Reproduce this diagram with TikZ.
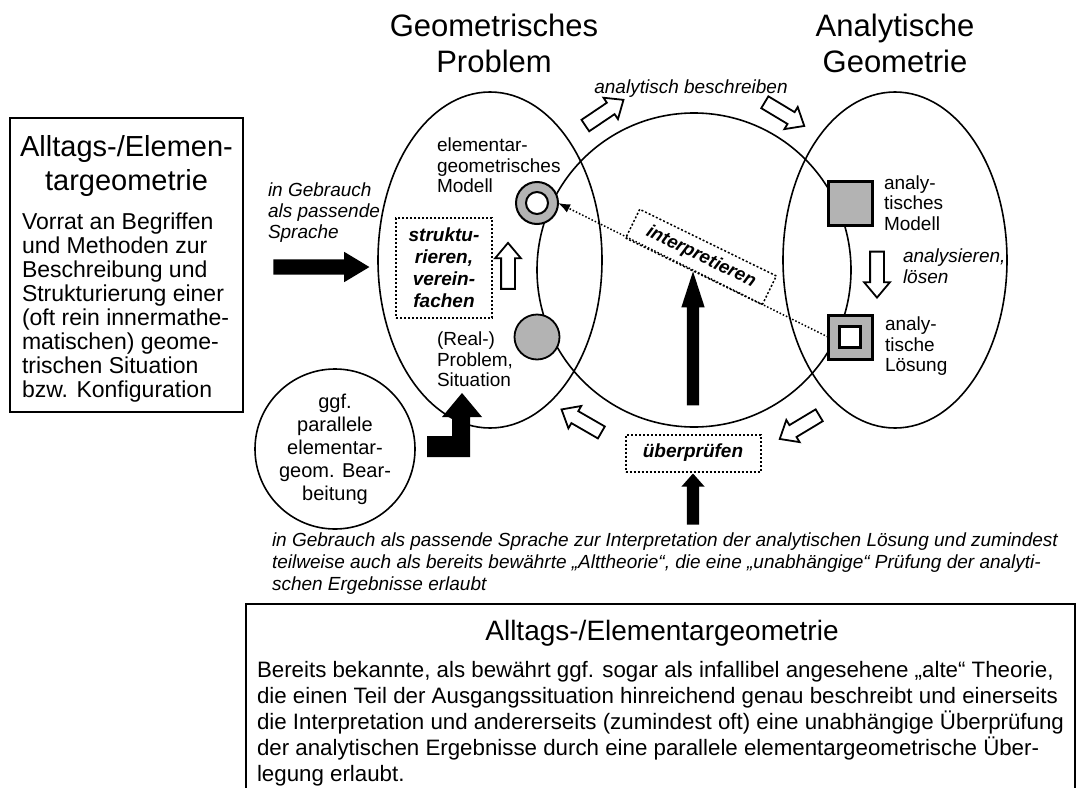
\documentclass[tikz,border=0pt]{standalone}
\usepackage{fontspec}
\setmainfont{Liberation Sans}
\usepackage{xcolor}
\usetikzlibrary{arrows.meta,positioning,shapes.geometric,shapes.arrows}
\definecolor{fillgray}{HTML}{B3B3B3}
\newcommand{\fsz}[2]{\fontsize{#1}{#2}\selectfont}

\begin{document}
\begin{tikzpicture}[x=1pt,y=-1pt,
  every node/.style={inner sep=0pt, outer sep=0pt},
  region/.style={draw, ellipse, line width=1.6, minimum width=224pt, minimum height=336pt},
  frame/.style={draw, rectangle, line width=2.6},
  dotbox/.style={draw, rectangle, line width=2, dash pattern=on 2pt off 2pt},
  title/.style={align=center, font=\fsz{31}{36}},
  lbl/.style={align=left, font=\fsz{19}{20.5}},
  note/.style={align=left, font=\fsz{19}{21}\itshape},
  act/.style={align=center, font=\fsz{19}{22}\bfseries\itshape},
  warrow/.style={single arrow, draw, fill=white, line width=1.8, minimum height=46pt,
    minimum width=24pt, inner xsep=0pt, inner ysep=6pt, single arrow head extend=6pt,
    single arrow tip angle=80},
  barrow/.style={single arrow, fill=black, inner xsep=0pt}]
\useasboundingbox (0,0) rectangle (1078,787);

% the three regions
\node [region] (geoprob) at (490,260) {};
\node [region] (anageo) at (895,260) {};
\node [draw, circle, line width=1.6, minimum size=314pt] (bridge) at (694,270) {};

\node [title, anchor=north] (probtitle) at (494,14) {Geometrisches\\Problem};
\node [title, anchor=north] (geomtitle) at (895,14) {Analytische\\Geometrie};

% left box
\node [frame, minimum width=233pt, minimum height=294pt, anchor=north west] (elembox) at (10,118) {};
\node [align=center, font=\fsz{29}{34}, anchor=north] (elemtitle) at (126.5,135) {Alltags-/Elemen-\\targeometrie};
\node [align=left, font=\fsz{23}{24}, anchor=north west] (elemtext) at (22,213)
  {Vorrat an Begriffen\\und Methoden zur\\Beschreibung und\\Strukturierung einer\\(oft rein innermathe-\\matischen) geome-\\trischen Situation\\bzw. Konfiguration};

\node [note, anchor=north west] (usage) at (268,183) {in Gebrauch\\als passende\\Sprache};
\node [barrow, minimum height=96pt, minimum width=30pt, inner ysep=7.5pt,
  single arrow head extend=7.5pt, single arrow tip angle=62] (usearrow) at (315,267) {};

% geometric problem
\node [lbl, anchor=north west] (modlab) at (437,138) {elementar-\\geometrisches\\Modell};
\node [draw, circle, fill=fillgray, line width=2, minimum size=42pt] (ring) at (537,203) {};
\node [draw, circle, fill=white, line width=2, minimum size=22pt] (ringin) at (ring) {};
\node [dotbox, act, minimum width=96pt, minimum height=100pt] (simplify) at (444,268) {struktu-\\rieren,\\verein-\\fachen};
\node [warrow, rotate=90] (upw) at (508,270) {};
\node [draw, circle, fill=fillgray, line width=1.8, minimum size=45pt] (sit) at (537,337) {};
\node [lbl, anchor=north west] (sitlab) at (437,332) {(Real-)\\Problem,\\Situation};

% parallel treatment
\node [draw, circle, line width=1.6, minimum size=160pt, align=center, font=\fsz{20}{23}] (parallel) at (335,449)
  {ggf.\\parallele\\elementar-\\geom. Bear-\\beitung};
\fill (427,457) -- (470,457) -- (470,417) -- (482,417) -- (462,393) -- (442,417)
  -- (452,417) -- (452,436) -- (427,436) -- cycle;

% analytic geometry
\node [draw, fill=fillgray, line width=3, minimum size=44pt] (mod) at (850,203) {};
\node [lbl, right=12pt of mod] (modlab2) {analy-\\tisches\\Modell};
\node [warrow, rotate=-90] (downw) at (877,270.5) {};
\node [note, anchor=north west] (solve) at (903,249) {analysieren,\\lösen};
\node [draw, fill=fillgray, line width=3, minimum size=44pt] (lsg) at (850,337) {};
\node [draw, fill=white, line width=3, minimum size=21pt] (lsgin) at (lsg) {};
\node [lbl, anchor=north west] (lsglab) at (885,317) {analy-\\tische\\Lösung};

% transitions
\node [note, anchor=north] (describe) at (691,80) {analytisch beschreiben};
\node [warrow, rotate=34] (descr1) at (601,115) {};
\node [warrow, rotate=-31] (descr2) at (781,112) {};
\node [warrow, rotate=-149] (back1) at (803,425) {};
\node [warrow, rotate=150] (back2) at (585,423) {};

\draw [line width=1.5, dash pattern=on 1.5pt off 2pt, -{Latex[length=12pt,width=9pt]}] (lsg.west) -- (ring.east);
\node [dotbox, act, line width=1.5, rotate=-26, minimum width=152pt, minimum height=32pt,
  font=\fsz{18.5}{22}\bfseries\itshape] (interp) at (701,257) {interpretieren};

\node [barrow, rotate=90, minimum height=134pt, minimum width=23pt, inner ysep=6pt,
  single arrow head extend=5.5pt, single arrow tip angle=36] (interparrow) at (693,348) {};
\node [dotbox, act, minimum width=135pt, minimum height=37pt] (check) at (693,453) {überprüfen};
\node [barrow, rotate=90, minimum height=51pt, minimum width=23pt, inner ysep=6pt,
  single arrow head extend=5.5pt, single arrow tip angle=83] (checkarrow) at (693,502.5) {};

\node [note, font=\fsz{19}{22}\itshape, anchor=north west] (caption) at (272,533)
  {in Gebrauch als passende Sprache zur Interpretation der analytischen Lösung und zumindest\\
   teilweise auch als bereits bewährte „Alttheorie“, die eine „unabhängige“ Prüfung der analyti-\\
   schen Ergebnisse erlaubt};

% bottom box
\node [frame, minimum width=829pt, minimum height=230pt, anchor=north west] (altbox) at (246,604) {};
\node [font=\fsz{28}{32}, anchor=north] (alttitle) at (662,620) {Alltags-/Elementargeometrie};
\node [align=left, font=\fsz{22.3}{26}, anchor=north west] (alttext) at (257,661)
  {Bereits bekannte, als bewährt ggf. sogar als infallibel angesehene „alte“ Theorie,\\
   die einen Teil der Ausgangssituation hinreichend genau beschreibt und einerseits\\
   die Interpretation und andererseits (zumindest oft) eine unabhängige Überprüfung\\
   der analytischen Ergebnisse durch eine parallele elementargeometrische Über-\\
   legung erlaubt.};
\end{tikzpicture}
\end{document}
